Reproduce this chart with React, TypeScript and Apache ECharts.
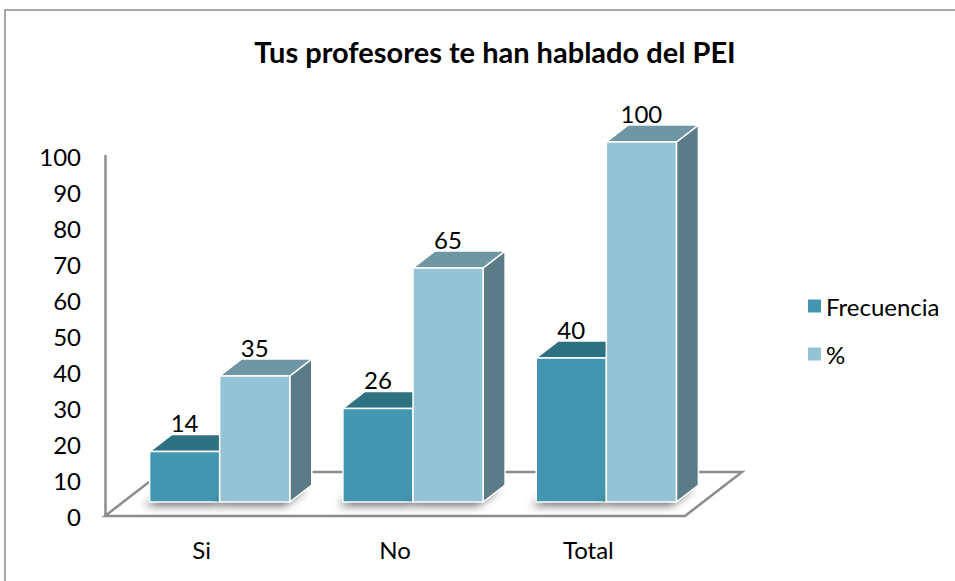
import React, { useEffect, useRef } from "react";
import * as echarts from "echarts";

const categories = ["Si", "No", "Total"];
const frecuencia = [14, 26, 40];
const porcentaje = [35, 65, 100];
const seriesNames = ["Frecuencia", "%"];
const yMin = 0;
const yMax = 100;
const yInterval = 10;

const FONT = "Lato, 'Noto Sans', sans-serif";

// layout constants
const GRID_LEFT = 105;
const GRID_TOP = 156;
const GRID_W = 580;
const GRID_H = 360;
const DEPTH_X = 57;
const DEPTH_Y = -44;
const BAR_DX = 22;
const BAR_DY = -17;
const SHIFT_X = 18;
const SHIFT_Y = -14;

const palettes = [
  { front: "#4396B0", top: "#2E7282", side: "#2F6E7E" },
  { front: "#94C3D5", top: "#6F96A3", side: "#5B7B86" },
];

function makeRender(seriesIdx: number) {
  return (params: any, api: any) => {
    const idx = api.value(0);
    const val = api.value(1);
    const base = api.coord([idx, 0]);
    const topP = api.coord([idx, val]);
    const band = api.size([1, 0])[0];
    const w = band * 0.3625;
    const cx = base[0] + SHIFT_X;
    const x0 = seriesIdx === 0 ? cx - w : cx;
    const yb = base[1] + SHIFT_Y;
    const yt = topP[1] + SHIFT_Y;
    const pal = palettes[seriesIdx];
    const stroke = { stroke: "#ffffff", lineWidth: 1.5 };
    const children: any[] = [
      {
        type: "polygon",
        shape: {
          points: [
            [x0, yb],
            [x0 + w, yb],
            [x0 + w + BAR_DX, yb + BAR_DY],
            [x0 + BAR_DX, yb + BAR_DY],
          ],
        },
        style: {
          fill: "#9a9a9a",
          shadowBlur: 8,
          shadowColor: "rgba(0,0,0,0.55)",
          shadowOffsetX: -5,
          shadowOffsetY: 4,
        },
      },
      {
        type: "polygon",
        shape: {
          points: [
            [x0 + w, yt],
            [x0 + w + BAR_DX, yt + BAR_DY],
            [x0 + w + BAR_DX, yb + BAR_DY],
            [x0 + w, yb],
          ],
        },
        style: { fill: pal.side, ...stroke },
      },
      {
        type: "polygon",
        shape: {
          points: [
            [x0, yt],
            [x0 + w, yt],
            [x0 + w + BAR_DX, yt + BAR_DY],
            [x0 + BAR_DX, yt + BAR_DY],
          ],
        },
        style: { fill: pal.top, ...stroke },
      },
      {
        type: "rect",
        shape: { x: x0, y: yt, width: w, height: yb - yt },
        style: { fill: pal.front, ...stroke },
      },
      {
        type: "text",
        x: x0 + w / 2,
        y: yt + BAR_DY,
        style: {
          text: String(val),
          fill: "#000",
          font: `24px ${FONT}`,
          align: "center",
          verticalAlign: "bottom",
        },
      },
    ];
    return { type: "group", children };
  };
}

export default function App() {
  const ref = useRef<HTMLDivElement>(null);
  useEffect(() => {
    if (!ref.current) return;
    const chart = echarts.init(ref.current, undefined, { renderer: "svg" });
    const gx0 = GRID_LEFT;
    const gx1 = GRID_LEFT + GRID_W;
    const gy = GRID_TOP + GRID_H;
    const seriesData = [frecuencia, porcentaje];
    chart.setOption({
      animation: false,
      backgroundColor: "#ffffff",
      textStyle: { fontFamily: FONT },
      title: {
        text: "Tus profesores te han hablado del PEI",
        left: 490,
        textAlign: "center",
        top: 32,
        textStyle: { fontFamily: FONT, fontSize: 29, fontWeight: "bold", color: "#000" },
      },
      legend: {
        orient: "vertical",
        left: 803,
        top: 289,
        itemWidth: 13,
        itemHeight: 13,
        itemGap: 24,
        icon: "rect",
        data: seriesNames,
        textStyle: { fontFamily: FONT, fontSize: 24, color: "#000" },
      },
      graphic: [
        {
          type: "rect",
          z: -10,
          shape: { x: 5, y: 10, width: 980, height: 600 },
          style: { fill: "none", stroke: "#8a8a8a", lineWidth: 1.5 },
        },
        {
          type: "polygon",
          z: -5,
          shape: {
            points: [
              [gx0, gy],
              [gx1, gy],
              [gx1 + DEPTH_X, gy + DEPTH_Y],
              [gx0 + DEPTH_X, gy + DEPTH_Y],
            ],
          },
          style: { fill: "#ffffff", stroke: "#8c8c8c", lineWidth: 2.5 },
        },
      ],
      grid: { left: GRID_LEFT, top: GRID_TOP, width: GRID_W, height: GRID_H, containLabel: false },
      xAxis: {
        type: "category",
        data: categories,
        axisLine: { show: false },
        axisTick: { show: false },
        axisLabel: { fontFamily: FONT, fontSize: 24, color: "#000", margin: 21 },
      },
      yAxis: {
        type: "value",
        min: yMin,
        max: yMax,
        interval: yInterval,
        axisLine: { show: true, lineStyle: { color: "#8c8c8c", width: 2.5 } },
        axisTick: { show: false },
        splitLine: { show: false },
        axisLabel: { fontFamily: FONT, fontSize: 24, color: "#000", margin: 24 },
      },
      series: seriesNames.map((name, i) => ({
        name,
        type: "custom",
        itemStyle: { color: palettes[i].front },
        renderItem: makeRender(i),
        encode: { x: 0, y: 1 },
        data: seriesData[i].map((v, k) => [k, v]),
        z: 2 + i,
      })),
    });
    return () => chart.dispose();
  }, []);
  return (
    <div
      ref={ref}
      style={{ position: "fixed", left: 0, top: 0, width: 955, height: 581 }}
    />
  );
}
